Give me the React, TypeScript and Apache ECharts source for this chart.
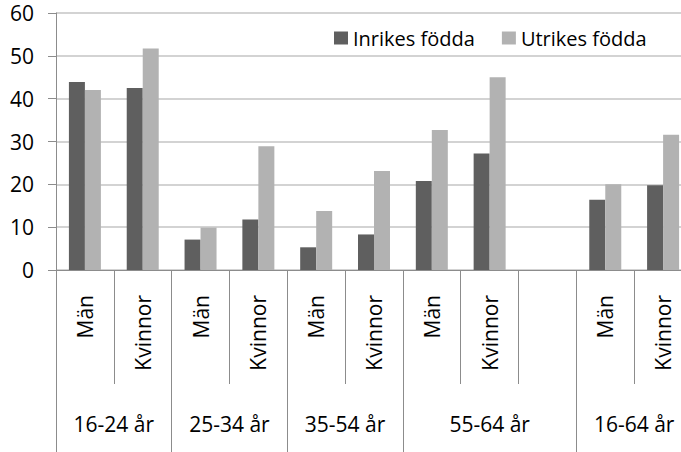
import React, { useEffect, useRef } from "react";
import * as echarts from "echarts";

const subCategories = ["Män", "Kvinnor", "Män", "Kvinnor", "Män", "Kvinnor", "Män", "Kvinnor", "", "Män", "Kvinnor"];
const groupLabels = ["16-24 år", "25-34 år", "35-54 år", "55-64 år", "16-64 år"];
// group spans in number of sub-category slots
const groupSpans = [2, 2, 2, 3, 2];
const inrikes = [43.9, 42.5, 7.1, 11.8, 5.3, 8.3, 20.8, 27.2, null, 16.4, 19.8];
const utrikes = [42.0, 51.7, 9.9, 28.9, 13.8, 23.1, 32.7, 45.0, null, 20.0, 31.6];
const seriesNames = ["Inrikes födda", "Utrikes födda"];
const yTicks = { min: 0, max: 60, interval: 10 };

const FONT = "Open Sans";
const AXIS = "#8c8c8c";
const GRID = "#c4c4c4";

export default function App() {
  const ref = useRef<HTMLDivElement>(null);
  useEffect(() => {
    if (!ref.current) return;
    const chart = echarts.init(ref.current, null, { renderer: "svg" });

    // second-level axis: half-slot points, boundaryGap false
    const nHalf = subCategories.length * 2;
    const groupData: string[] = new Array(nHalf + 1).fill("");
    const sepIdx: number[] = [0];
    let pos = 0;
    groupSpans.forEach((s, i) => {
      groupData[pos + s] = groupLabels[i];
      pos += s * 2;
      sepIdx.push(pos);
    });

    chart.setOption({
      animation: false,
      textStyle: { fontFamily: FONT },
      grid: { left: 56, top: 13, width: 636, height: 257, containLabel: false },
      legend: {
        left: 334,
        top: 27,
        padding: 0,
        itemWidth: 14,
        itemHeight: 13,
        itemGap: 27,
        icon: "rect",
        textStyle: { fontFamily: FONT, fontSize: 20, color: "#000", lineHeight: 22 },
        data: seriesNames,
      },
      xAxis: [
        {
          type: "category",
          data: subCategories,
          position: "bottom",
          axisLine: { show: true, lineStyle: { color: AXIS, width: 1 } },
          axisTick: { show: true, length: 114, lineStyle: { color: AXIS } },
          axisLabel: {
            interval: 0,
            rotate: 90,
            margin: 25,
            fontSize: 21,
            fontFamily: FONT,
            color: "#000",
          },
          splitLine: { show: false },
        },
        {
          type: "category",
          data: groupData,
          position: "bottom",
          boundaryGap: false,
          axisLine: { show: false },
          axisTick: {
            show: true,
            length: 182,
            interval: (idx: number) => sepIdx.includes(idx),
            lineStyle: { color: AXIS },
          },
          axisLabel: {
            interval: 0,
            margin: 143,
            fontSize: 21,
            fontFamily: FONT,
            color: "#000",
          },
          splitLine: { show: false },
        },
      ],
      yAxis: {
        type: "value",
        min: yTicks.min,
        max: yTicks.max,
        interval: yTicks.interval,
        axisLine: { show: true, lineStyle: { color: AXIS } },
        axisTick: { show: true, length: 8, lineStyle: { color: AXIS } },
        axisLabel: { margin: 22, fontSize: 21, fontFamily: FONT, color: "#000" },
        splitLine: { show: true, lineStyle: { color: GRID, width: 1.5 } },
      },
      series: [
        {
          name: seriesNames[0],
          type: "bar",
          xAxisIndex: 0,
          data: inrikes,
          barWidth: 16,
          barGap: "0%",
          itemStyle: { color: "#5f5f5f" },
        },
        {
          name: seriesNames[1],
          type: "bar",
          xAxisIndex: 0,
          data: utrikes,
          barWidth: 16,
          barGap: "0%",
          itemStyle: { color: "#b2b2b2" },
        },
      ],
    });
    return () => chart.dispose();
  }, []);
  return (
    <div
      style={{ position: "fixed", left: 0, top: 0, width: 681, height: 452, overflow: "hidden", background: "#fff" }}
    >
      <div ref={ref} style={{ width: 720, height: 452 }} />
    </div>
  );
}
